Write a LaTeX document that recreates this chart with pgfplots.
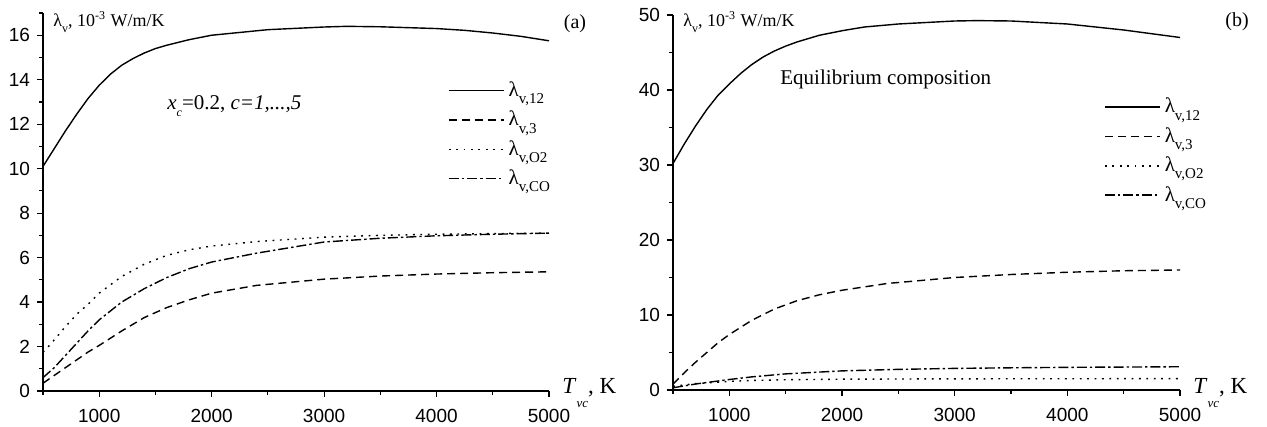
\documentclass[border=0pt]{standalone}
\usepackage{fontspec}
\setmainfont{Liberation Serif}
\newfontfamily\arialf{Liberation Sans}
\usepackage{pgfplots}
\pgfplotsset{compat=1.18}
\usepackage{pgfplotstable}
\newcommand\sub[1]{\raisebox{-0.75ex}{\fontsize{7.5}{8}\selectfont #1}}
\newcommand\subs[1]{\raisebox{-0.7ex}{\fontsize{6}{7}\selectfont #1}}

\pgfplotstableread{
T v
500 10.1
600 10.9
700 11.7
800 12.45
900 13.15
1000 13.75
1100 14.25
1200 14.65
1300 14.95
1400 15.2
1500 15.4
1600 15.55
1800 15.8
2000 16.0
2200 16.1
2500 16.25
3000 16.37
3200 16.4
3500 16.38
4000 16.3
4250 16.22
4500 16.1
4750 15.95
5000 15.75
}\aXII
\pgfplotstableread{
T v
500 0.35
600 0.7
700 1.05
800 1.4
900 1.75
1000 2.05
1200 2.7
1400 3.3
1600 3.75
1800 4.1
2000 4.4
2400 4.75
3000 5.03
3500 5.17
4000 5.26
4500 5.32
5000 5.36
}\aIII
\pgfplotstableread{
T v
500 1.75
562 2.07
600 2.3
700 2.9
800 3.45
900 3.9
1000 4.4
1200 5.15
1400 5.7
1600 6.1
1800 6.35
2000 6.52
2400 6.72
3000 6.92
3500 7.0
4000 7.05
4500 7.08
5000 7.1
}\aOII
\pgfplotstableread{
T v
500 0.6
600 1.05
700 1.6
800 2.15
900 2.7
1000 3.2
1200 4.0
1400 4.6
1600 5.1
1800 5.5
2000 5.8
2400 6.2
3000 6.7
3500 6.87
4000 6.98
4500 7.05
5000 7.1
}\aCO
\pgfplotstableread{
T v
500 30.2
600 32.8
700 35.2
800 37.4
900 39.3
1000 40.8
1100 42.2
1200 43.4
1300 44.4
1400 45.2
1500 45.85
1600 46.4
1800 47.3
2000 47.9
2200 48.4
2500 48.8
3000 49.2
3200 49.25
3500 49.2
4000 48.8
4250 48.4
4500 48.0
4750 47.5
5000 47.0
}\bXII
\pgfplotstableread{
T v
500 0.8
600 2.3
700 3.7
800 5.0
900 6.3
1000 7.4
1200 9.3
1400 10.8
1600 11.9
1800 12.7
2000 13.3
2400 14.2
3000 15.0
3500 15.4
4000 15.7
4500 15.9
5000 16.0
}\bIII
\pgfplotstableread{
T v
500 0.5
700 0.85
1000 1.15
1200 1.27
1500 1.37
2000 1.44
3000 1.49
4000 1.5
5000 1.52
}\bOII
\pgfplotstableread{
T v
500 0.3
700 0.8
1000 1.4
1200 1.75
1500 2.15
2000 2.55
2500 2.75
3000 2.88
3500 2.96
4000 3.02
4500 3.06
5000 3.1
}\bCO

\pgfplotsset{
  panel/.style={
    scale only axis,
    axis lines=left,
    axis line style={-, line width=0.75pt},
    tick align=outside,
    tick style={black, line width=0.6pt},
    major tick length=3pt,
    minor tick length=1.8pt,
    xmin=500, xmax=5000,
    xtick={1000,2000,3000,4000,5000},
    minor xtick={500,1500,2500,3500,4500},
    /pgf/number format/assume math mode=true,
    /pgf/number format/1000 sep={},
    tick label style={font=\arialf\fontsize{9.5}{11}\selectfont},
    xticklabel style={yshift=-2.5pt},
    legend style={draw=none, fill=none, font=\fontsize{10.5}{12}\selectfont, row sep=1.8pt, inner sep=0pt},
    legend cell align=left,
    legend image code/.code={\draw[##1] (0pt,0pt) -- (27.5pt,0pt);},
    clip=false,
  },
  s12/.style={black, line width=0.7pt, solid},
  s3/.style={black, line width=0.7pt, dash pattern=on 4pt off 2.5pt},
  sO2/.style={black, line width=0.7pt, dash pattern=on 0.9pt off 2.8pt},
  sCO/.style={black, line width=0.7pt, dash pattern=on 5pt off 1.5pt on 1.2pt off 1.5pt},
}

\begin{document}
\begin{tikzpicture}
\path[use as bounding box] (0,0) rectangle (633.5pt,213.5pt);

\begin{axis}[panel,
  at={(21.5pt,18pt)}, anchor=south west,
  width=253pt, height=189pt,
  ymin=0, ymax=17,
  ytick={0,2,...,16}, minor ytick={1,3,...,17},
  legend style={at={(axis description cs:0.80,0.83)}, anchor=north west},
]
\addplot[s12] table[x=T,y=v] {\aXII};
\addlegendentry{λ\sub{v,12}}
\addplot[s3] table[x=T,y=v] {\aIII};
\addlegendentry{λ\sub{v,3}}
\addplot[sO2] table[x=T,y=v] {\aOII};
\addlegendentry{λ\sub{v,O2}}
\addplot[sCO] table[x=T,y=v] {\aCO};
\addlegendentry{λ\sub{v,CO}}
\end{axis}

\begin{axis}[panel,
  at={(336.5pt,18.5pt)}, anchor=south west,
  width=253.5pt, height=187.5pt,
  ymin=0, ymax=50,
  ytick={0,10,...,50}, minor ytick={5,15,...,45},
  legend style={at={(axis description cs:0.85,0.79)}, anchor=north west},
]
\addplot[s12] table[x=T,y=v] {\bXII};
\addlegendentry{λ\sub{v,12}}
\addplot[s3] table[x=T,y=v] {\bIII};
\addlegendentry{λ\sub{v,3}}
\addplot[sO2] table[x=T,y=v] {\bOII};
\addlegendentry{λ\sub{v,O2}}
\addplot[sCO] table[x=T,y=v] {\bCO};
\addlegendentry{λ\sub{v,CO}}
\end{axis}

\node[anchor=base west, inner sep=0pt, font=\fontsize{9}{10}\selectfont] at (26.5pt,200pt) {λ\subs{v}, 10\textsuperscript{-3} W/m/K};
\node[anchor=base west, inner sep=0pt, font=\fontsize{9}{10}\selectfont] at (341.5pt,200pt) {λ\subs{v}, 10\textsuperscript{-3} W/m/K};
\node[inner sep=0pt, font=\fontsize{10}{12}\selectfont] at (287.5pt,201.5pt) {(a)};
\node[inner sep=0pt, font=\fontsize{10}{12}\selectfont] at (618.5pt,202.5pt) {(b)};
\node[anchor=base west, inner sep=0pt, font=\fontsize{10.5}{12}\selectfont] at (83.5pt,158.5pt) {\textit{x}\subs{\textit{c}}=0.2, \textit{c=1,...,5}};
\node[anchor=base west, inner sep=0pt, font=\fontsize{10.5}{12}\selectfont] at (390pt,171pt) {Equilibrium composition};
\node[anchor=base west, inner sep=0pt, font=\fontsize{11.5}{12}\selectfont] at (281pt,16.5pt) {\textit{T}\raisebox{-7pt}{\fontsize{6.5}{7}\selectfont\textit{vc}}, K};
\node[anchor=base west, inner sep=0pt, font=\fontsize{11.5}{12}\selectfont] at (596.5pt,16.5pt) {\textit{T}\raisebox{-7pt}{\fontsize{6.5}{7}\selectfont\textit{vc}}, K};
\end{tikzpicture}
\end{document}
